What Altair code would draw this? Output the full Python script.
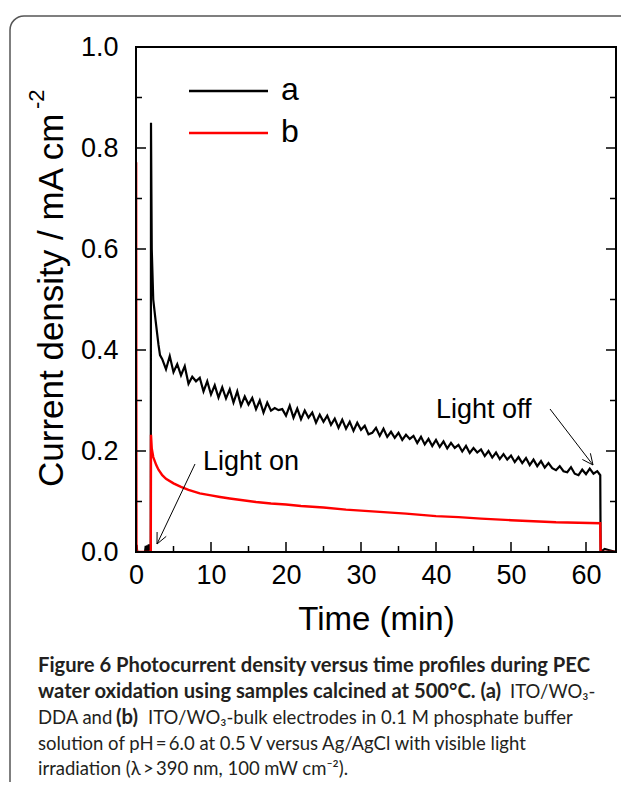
import math
import altair as alt
import pandas as pd

# ---------------- data ----------------
series_names = ["a", "b"]
series_colors = ["#000000", "#ff0000"]

time_a = [0.0, 0.08, 0.15, 0.3, 1.2, 1.3, 1.38, 1.5, 1.6, 1.7, 1.8, 1.9, 1.97,
          2.0, 2.05, 2.1, 2.3, 2.6, 2.8, 3.0, 3.2,
          3.5, 4, 4.5, 5, 5.5, 6, 6.5, 7, 7.5, 8,
          8.5, 9, 9.5, 10, 10.5, 11, 11.5, 12, 12.5, 13,
          13.5, 14, 14.5, 15, 15.5, 16, 16.5, 17, 17.5, 18,
          18.5, 19, 19.5, 20, 20.5, 21, 21.5, 22, 22.5, 23,
          23.5, 24, 24.5, 25, 25.5, 26, 26.5, 27, 27.5, 28,
          28.5, 29, 29.5, 30, 30.5, 31, 31.5, 32, 32.5, 33,
          33.5, 34, 34.5, 35, 35.5, 36, 36.5, 37, 37.5, 38,
          38.5, 39, 39.5, 40, 40.5, 41, 41.5, 42, 42.5, 43,
          43.5, 44, 44.5, 45, 45.5, 46, 46.5, 47, 47.5, 48,
          48.5, 49, 49.5, 50, 50.5, 51, 51.5, 52, 52.5, 53,
          53.5, 54, 54.5, 55, 55.5, 56, 56.5, 57, 57.5, 58,
          58.5, 59, 59.5, 60, 60.5, 61, 61.5, 61.9,
          61.95, 62.5, 63, 63.5, 64]
current_a = [0.0, 0.014, 0.002, 0.0, 0.0, 0.012, 0.001, 0.013, 0.002, 0.015, 0.003, 0.014, 0.0,
             0.85, 0.72, 0.60, 0.50, 0.46, 0.435, 0.41, 0.39,
             0.382, 0.362, 0.388, 0.356, 0.372, 0.350, 0.368, 0.333, 0.347, 0.338,
             0.345, 0.318, 0.338, 0.312, 0.330, 0.306, 0.326, 0.304, 0.322, 0.296,
             0.318, 0.290, 0.308, 0.292, 0.305, 0.283, 0.300, 0.276, 0.296, 0.280,
             0.285, 0.281, 0.283, 0.270, 0.290, 0.266, 0.284, 0.263, 0.280, 0.266,
             0.276, 0.256, 0.272, 0.258, 0.270, 0.252, 0.264, 0.246, 0.262, 0.244,
             0.258, 0.240, 0.256, 0.242, 0.250, 0.233, 0.236, 0.246, 0.230, 0.244,
             0.228, 0.238, 0.226, 0.236, 0.222, 0.232, 0.224, 0.230, 0.216, 0.228,
             0.213, 0.224, 0.210, 0.222, 0.208, 0.219, 0.205, 0.216, 0.206, 0.212,
             0.199, 0.210, 0.196, 0.206, 0.197, 0.203, 0.190, 0.200, 0.187, 0.197,
             0.184, 0.194, 0.183, 0.191, 0.178, 0.188, 0.176, 0.186, 0.172, 0.183,
             0.170, 0.180, 0.167, 0.176, 0.166, 0.162, 0.170, 0.160, 0.158, 0.168,
             0.155, 0.152, 0.163, 0.154, 0.165, 0.155, 0.160, 0.152,
             0.0, 0.006, 0.004, 0.002, 0.0]

time_b = [0.0, 0.02, 0.06, 0.5, 1.0, 1.5, 1.97, 2.0, 2.1, 2.3, 2.5, 2.7, 3.0, 3.5,
          4.0, 5.0, 6.0, 7.0, 8.5, 10, 11.2, 12.5, 14, 16, 18, 20, 22, 25, 28, 30,
          33, 36, 40, 43, 46, 50, 53, 56, 59, 61.9, 61.95, 63, 64]
current_b = [0.0, 0.772, 0.0, 0.0, 0.0, 0.0, 0.0, 0.232, 0.205, 0.188, 0.180, 0.172, 0.163, 0.152,
             0.145, 0.136, 0.129, 0.123, 0.116, 0.112, 0.109, 0.106, 0.103, 0.099, 0.096, 0.094,
             0.091, 0.088, 0.084, 0.082, 0.079, 0.076, 0.071, 0.069, 0.066, 0.063, 0.061, 0.059,
             0.058, 0.057, 0.0, 0.0, 0.0]

x_major = [0, 10, 20, 30, 40, 50, 60]
x_minor = [5, 15, 25, 35, 45, 55]
y_major = [0.0, 0.2, 0.4, 0.6, 0.8, 1.0]
y_minor = [0.1, 0.3, 0.5, 0.7, 0.9]

x_title = "Time (min)"
y_title = "Current density / mA cm"
y_title_sup = "-2"
note_on = "Light on"
note_off = "Light off"

caption_lines = [
    [("Figure 6 Photocurrent density versus time profiles during PEC", "bold", 0)],
    [("water oxidation using samples calcined at 500°C. (a)", "bold", 0), ("ITO/WO\u2083-", "normal", 472)],
    [("DDA and", "normal", 0), ("(b)", "bold", 78), ("ITO/WO\u2083-bulk electrodes in 0.1 M phosphate buffer", "normal", 110)],
    [("solution of pH\u2009=\u20096.0 at 0.5 V versus Ag/AgCl with visible light", "normal", 0)],
    [("irradiation (\u03bb\u2009>\u2009390 nm, 100 mW cm\u207b\u00b2).", "normal", 0)],
]

# ---------------- layout ----------------
W, H = 480, 505
FONT = "Liberation Sans"
CAP_FONT = "Lato"

xs = alt.Scale(domain=[0, 64], nice=False, zero=False)
ys = alt.Scale(domain=[0, 1], nice=False, zero=False)

xaxis = alt.Axis(values=x_major, format="d", title=x_title, ticks=False, tickSize=0, domain=False,
                 grid=False, labelFont=FONT, labelFontSize=27, labelColor="black", labelPadding=10,
                 labelFlush=False, labelOverlap=False,
                 titleFont=FONT, titleFontSize=33, titleFontWeight="normal", titleColor="black",
                 titlePadding=15)
yaxis = alt.Axis(values=y_major, format=".1f", title=None, ticks=False, tickSize=0, domain=False,
                 grid=False, labelFont=FONT, labelFontSize=27, labelColor="black", labelPadding=18,
                 labelFlush=False, labelOverlap=False)

one = pd.DataFrame({"d": [0]})

df_a = pd.DataFrame({"t": time_a, "v": current_a, "i": range(len(time_a))})
df_b = pd.DataFrame({"t": time_b, "v": current_b, "i": range(len(time_b))})

line_a = alt.Chart(df_a).mark_line(color=series_colors[0], strokeWidth=2.2, clip=True).encode(
    x=alt.X("t:Q", scale=xs, axis=xaxis), y=alt.Y("v:Q", scale=ys, axis=yaxis), order="i:Q")
line_b = alt.Chart(df_b).mark_line(color=series_colors[1], strokeWidth=2.4, clip=True).encode(
    x=alt.X("t:Q", scale=xs, axis=xaxis), y=alt.Y("v:Q", scale=ys, axis=yaxis), order="i:Q")

layers = []

# border box of the figure panel
layers.append(alt.Chart(one).mark_rect(cornerRadius=14, fillOpacity=0, stroke="#555555", strokeWidth=1.5).encode(
    x=alt.value(-126), x2=alt.value(500), y=alt.value(-31), y2=alt.value(770)))

layers += [line_a, line_b]

# plot frame
layers.append(alt.Chart(one).mark_rect(fillOpacity=0, stroke="black", strokeWidth=2).encode(
    x=alt.value(0), x2=alt.value(W), y=alt.value(0), y2=alt.value(H)))

# inward ticks
def xticks(vals, length):
    return alt.Chart(pd.DataFrame({"t": vals})).mark_rule(color="black", strokeWidth=1.5).encode(
        x=alt.X("t:Q", scale=xs, axis=xaxis), y=alt.value(H), y2=alt.value(H - length))

def yticks(vals, x0, x1):
    return alt.Chart(pd.DataFrame({"v": vals})).mark_rule(color="black", strokeWidth=1.5).encode(
        y=alt.Y("v:Q", scale=ys, axis=yaxis), x=alt.value(x0), x2=alt.value(x1))

layers += [xticks(x_major, 10), xticks(x_minor, 6),
           yticks(y_major, 0, 10), yticks(y_minor, 0, 6),
           yticks(y_major, W, W - 10), yticks(y_minor, W, W - 6)]

# legend drawn by hand
for k, (name, col) in enumerate(zip(series_names, series_colors)):
    yy = 44 + 42 * k
    layers.append(alt.Chart(one).mark_rule(color=col, strokeWidth=2.5).encode(
        x=alt.value(53), x2=alt.value(132), y=alt.value(yy)))
    layers.append(alt.Chart(one).mark_text(text=name, font=FONT, fontSize=32, align="left",
                                           baseline="alphabetic", color="black").encode(
        x=alt.value(145), y=alt.value(yy + 9)))

# annotations with arrows
def arrow(x0, y0, x1, y1, head=12, ang=25):
    out = [alt.Chart(one).mark_rule(color="black", strokeWidth=1).encode(
        x=alt.value(x0), y=alt.value(y0), x2=alt.value(x1), y2=alt.value(y1))]
    dx, dy = x0 - x1, y0 - y1
    L = math.hypot(dx, dy)
    ux, uy = dx / L, dy / L
    for s in (1, -1):
        a = math.radians(ang) * s
        hx = ux * math.cos(a) - uy * math.sin(a)
        hy = ux * math.sin(a) + uy * math.cos(a)
        out.append(alt.Chart(one).mark_rule(color="black", strokeWidth=1).encode(
            x=alt.value(x1), y=alt.value(y1), x2=alt.value(x1 + head * hx), y2=alt.value(y1 + head * hy)))
    return out

layers.append(alt.Chart(one).mark_text(text=note_on, font=FONT, fontSize=27, align="left",
                                       baseline="middle", color="black").encode(
    x=alt.value(67), y=alt.value(415)))
layers += arrow(59, 417, 21, 497)
layers.append(alt.Chart(one).mark_text(text=note_off, font=FONT, fontSize=27, align="left",
                                       baseline="middle", color="black").encode(
    x=alt.value(300), y=alt.value(363)))
layers += arrow(414, 362, 457, 418)

# y-axis title with superscript
layers.append(alt.Chart(one).mark_text(text=y_title, font=FONT, fontSize=35, angle=270, align="left",
                                       baseline="middle", color="black").encode(
    x=alt.value(-84), y=alt.value(440)))
layers.append(alt.Chart(one).mark_text(text=y_title_sup, font=FONT, fontSize=22, angle=270, align="left",
                                       baseline="middle", color="black").encode(
    x=alt.value(-99), y=alt.value(62)))

# caption
cap_y = [619, 645, 671, 697, 722]
for yy, segs in zip(cap_y, caption_lines):
    for txt, wt, dx in segs:
        size = 20.2 if wt == "bold" else 18.5
        layers.append(alt.Chart(one).mark_text(text=txt, font=CAP_FONT, fontSize=size, fontWeight=wt,
                                               align="left", baseline="middle", color="#231f20").encode(
            x=alt.value(-98 + dx), y=alt.value(yy)))

chart = alt.layer(*layers).properties(
    width=W, height=H,
    autosize=alt.AutoSizeParams(type="none"),
    padding={"left": 128, "top": 39, "right": 5, "bottom": 230},
    background="white",
).configure_view(stroke=None)

chart.save("out.html", embed_options={"renderer": "svg", "actions": False})
